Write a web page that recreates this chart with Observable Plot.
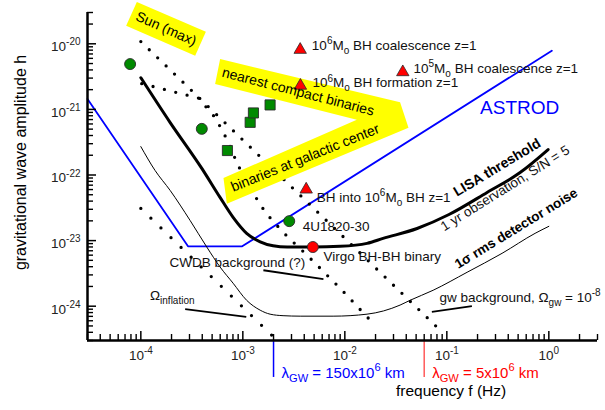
<!DOCTYPE html>
<html><head><meta charset="utf-8">
<script src="https://cdn.jsdelivr.net/npm/d3@7"></script>
<script src="https://cdn.jsdelivr.net/npm/@observablehq/plot@0.6"></script>
<style>body{margin:0;background:#fff}#chart{width:605px;height:410px}</style>
</head><body><div id="chart"></div>
<script>
// ---------- data (frequency in Hz, strain amplitude h) ----------
const astrodF = [3e-5, 2.9e-4, 9.85e-4, 1.07];
const astrodH = [1.44e-21, 8.18e-24, 8.18e-24, 7.83e-21];

const lisaF = [1e-4, 1.94e-4, 3.96e-4, 5.98e-4, 8.03e-4, 1.09e-3, 1.48e-3, 1.98e-3, 2.72e-3, 4.89e-3, 8.99e-3, 1.65e-2, 2.37e-2, 5.11e-2, 0.105, 0.248, 0.523, 0.984];
const lisaH = [3.04e-21, 6.29e-22, 1.26e-22, 4.55e-23, 2.26e-23, 1.29e-23, 9.57e-24, 8.32e-24, 7.98e-24, 7.98e-24, 8.18e-24, 9.08e-24, 1.08e-23, 1.53e-23, 2.5e-23, 5.42e-23, 1.09e-22, 2.44e-22];

const noiseF = [1e-4, 1.38e-4, 1.94e-4, 3.04e-4, 4.43e-4, 5.98e-4, 8.03e-4, 1.09e-3, 1.48e-3, 1.85e-3, 2.48e-3, 3.65e-3, 7.68e-3, 1.65e-2, 3.48e-2, 4.36e-2, 7.34e-2, 0.158, 0.348, 0.733, 1.0];
const noiseH = [2.71e-22, 1.17e-22, 5.81e-23, 2.03e-23, 7.98e-24, 3.96e-24, 2.24e-24, 1.23e-24, 8.69e-25, 7.56e-25, 7.17e-25, 7.05e-25, 7.05e-25, 7.56e-25, 1.04e-24, 1.23e-24, 1.75e-24, 3.29e-24, 6.40e-24, 1.29e-23, 1.65e-23];

const dotAF = [1e-4, 9.14e-2];
const dotAH = [1.08e-20, 3.93e-25];
const dotBF = [1.02e-4, 3.73e-4, 4.57e-4, 5.47e-4, 6.12e-4, 7.01e-4, 8.41e-4, 9.62e-4, 1.38e-3, 1.62e-3, 1.94e-3, 2.78e-3, 4.18e-3, 8.99e-3, 1.89e-2];
const dotBH = [2.47e-21, 1.48e-21, 9.91e-22, 7.23e-22, 5.09e-22, 3.47e-22, 1.78e-22, 1.13e-22, 4.24e-23, 2.88e-23, 2.03e-23, 1.12e-23, 6.18e-24, 1.88e-24, 5.51e-25];
const dotCF = [1e-4, 1.92e-3];
const dotCH = [3.09e-23, 3.62e-25];

const greenDotF = [7.85e-5, 3.96e-4, 2.85e-3];
const greenDotH = [4.91e-21, 5.05e-22, 1.98e-23];
const redDotF = [4.86e-3];
const redDotH = [7.98e-24];
const squareF = [7.06e-4, 1.18e-3, 1.27e-3, 1.85e-3];
const squareH = [2.36e-22, 6.35e-22, 8.83e-22, 1.17e-21];
const triangleF = [3.65e-3, 3.67e-3, 3.70e-2, 4.18e-3];
const triangleH = [8.11e-21, 2.30e-21, 3.70e-21, 6.02e-23];

// pointer lines: [start f, start h, end f, end h]
const pointerF1 = [1.59e-3, 2.72e-4, 7.13e-2];
const pointerH1 = [3.53e-24, 9.0e-25, 8.18e-25];
const pointerF2 = [6.17e-3, 1.08e-3, 0.176];
const pointerH2 = [2.58e-24, 6.87e-25, 1.0e-24];

// yellow label backgrounds (polygon vertices)
const sunBoxF = [9.14e-5, 4.34e-4, 3.41e-4, 7.18e-5];
const sunBoxH = [4.35e-20, 1.52e-20, 6.56e-21, 1.88e-20];
const binBoxF = [5.99e-4, 3.48e-2, 4.21e-2, 6.97e-4, 6.46e-4, 1.31e-2, 5.35e-4];
const binBoxH = [5.85e-21, 1.28e-21, 5.27e-22, 3.65e-23, 9.0e-23, 6.98e-22, 2.44e-21];

const sourceLabels = ["10^{6}M_{o} BH coalescence z=1", "10^{6}M_{o} BH formation z=1", "10^{5}M_{o} BH coalescence z=1", "BH into 10^{6}M_{o} BH z=1", "4U1820-30", "Virgo BH-BH binary", "CWDB background (?)", "Ω_{inflation}", "gw background, Ω_{gw} = 10^{-8}"];
const sourceLabelF = [4.75e-3, 4.81e-3, 4.71e-2, 5.31e-3, 3.87e-3, 6.17e-3, 1.91e-4, 1.23e-4, 8.46e-2];
const sourceLabelH = [9.32e-21, 2.52e-21, 4.17e-21, 4.59e-23, 1.61e-23, 5.62e-24, 4.67e-24, 1.47e-24, 1.36e-24];

const lambdaF = [2e-3, 6e-2];
const lambdaLabels = ["λ_{GW} = 150x10^{6} km", "λ_{GW} = 5x10^{6} km"];
const lambdaTopH = 3e-25, lambdaBottomH = 8.2e-26, lambdaLabelH = 9.6e-26;

const xDomain = [3e-5, 3];
const yDomain = [3e-25, 3e-20];
const xMajor = [1e-4, 1e-3, 1e-2, 1e-1, 1];
const yMajor = [1e-24, 1e-23, 1e-22, 1e-21, 1e-20];
const xMinor = [], yMinor = [];
for (let e = -5; e <= 0; e++) for (let m = 2; m <= 9; m++) { const v = m * 10 ** e; if (v >= 2.99e-5 && v <= 3.01) xMinor.push(v); }
for (let e = -25; e <= -20; e++) for (let m = 2; m <= 9; m++) { const v = m * 10 ** e; if (v >= 2.99e-25 && v <= 3.01e-20) yMinor.push(v); }

// ---------- helpers ----------
const W = 605, H = 410, ML = 87, MR = 8, MT = 12, MB = 70;
const FW = W - ML - MR, FH = H - MT - MB;
const pts = (F, Hs) => F.map((f, i) => ({f, h: Hs[i]}));
const FONT = "'Liberation Sans', Arial, Helvetica, sans-serif";
const supLabel = d => "10^{" + Math.round(Math.log10(d)) + "}";
const dotted = {x: "f", y: "h", stroke: "black", strokeWidth: 3.3, strokeDasharray: "0 11.7", strokeLinecap: "round"};
const one = (txt, f, h, opts) => Plot.text([{f, h, txt}], {x: "f", y: "h", text: "txt", ...opts});

const chart = Plot.plot({
  width: W, height: H,
  marginLeft: ML, marginRight: MR, marginTop: MT, marginBottom: MB,
  x: {type: "log", domain: xDomain, axis: null},
  y: {type: "log", domain: yDomain, axis: null},
  style: {fontFamily: FONT, fontSize: "13px", background: "white", color: "black", overflow: "visible"},
  marks: [
    Plot.line(pts(astrodF, astrodH), {x: "f", y: "h", stroke: "#0000ff", strokeWidth: 1.8}),
    Plot.line(pts(noiseF, noiseH), {x: "f", y: "h", stroke: "black", strokeWidth: 1, curve: "monotone-x"}),
    Plot.line(pts(lisaF, lisaH), {x: "f", y: "h", stroke: "black", strokeWidth: 3, curve: "monotone-x"}),
    Plot.link(pointerF1.map((f, i) => ({f1: f, h1: pointerH1[i], f2: pointerF2[i], h2: pointerH2[i]})), {x1: "f1", y1: "h1", x2: "f2", y2: "h2", stroke: "black", strokeWidth: 1.8}),
    Plot.line(pts(dotAF, dotAH), dotted),
    Plot.line(pts(dotBF, dotBH), dotted),
    Plot.line(pts(dotCF, dotCH), {...dotted, strokeDasharray: "0 14"}),
    Plot.ruleX([lambdaF[0]], {y1: [lambdaTopH], y2: [lambdaBottomH], stroke: "#0000ff", strokeWidth: 1.5}),
    Plot.ruleX([lambdaF[1]], {y1: [lambdaTopH], y2: [lambdaBottomH], stroke: "#ff5a5a", strokeWidth: 1.5}),
    Plot.line(pts(sunBoxF, sunBoxH), {x: "f", y: "h", fill: "#ffff00", stroke: "none", curve: "linear-closed"}),
    Plot.line(pts(binBoxF, binBoxH), {x: "f", y: "h", fill: "#ffff00", stroke: "none", curve: "linear-closed"}),
    Plot.dot(pts(greenDotF, greenDotH), {x: "f", y: "h", r: 5.5, fill: "#008a00", stroke: "#2a2a2a", strokeWidth: 0.9}),
    Plot.dot(pts(redDotF, redDotH), {x: "f", y: "h", r: 5.5, fill: "#ff0000", stroke: "#2a2a2a", strokeWidth: 0.9}),
    Plot.dot(pts(squareF, squareH), {x: "f", y: "h", symbol: "square", r: 5.7, fill: "#008a00", stroke: "#2a2a2a", strokeWidth: 0.9}),
    Plot.dot(pts(triangleF, triangleH), {x: "f", y: "h", symbol: "triangle", r: 4.6, fill: "#ff0000", stroke: "#2a2a2a", strokeWidth: 0.8}),
    Plot.text(sourceLabels.map((t, i) => ({t, f: sourceLabelF[i], h: sourceLabelH[i]})), {x: "f", y: "h", text: "t", textAnchor: "start", fontSize: 13.5, fill: "#111"}),
    one("ASTROD", 0.212, 1.07e-21, {textAnchor: "start", fontSize: 19, fill: "#0000ff"}),
    one("LISA threshold", 0.311, 1.30e-22, {rotate: -31, fontSize: 14, fontWeight: "bold"}),
    one("1 yr observation, S/N = 5", 0.373, 6.24e-23, {rotate: -32, fontSize: 13.5, fill: "#111"}),
    one("1σ rms detector noise", 0.478, 1.53e-23, {rotate: -31.5, fontSize: 13.5, fontWeight: "bold"}),
    one("Sun (max)", 1.77e-4, 1.69e-20, {rotate: 24, fontSize: 14}),
    one("nearest compact binaries", 3.48e-3, 1.86e-21, {rotate: 14.5, fontSize: 14}),
    one("binaries at galactic center", 4.08e-3, 1.82e-22, {rotate: -22, fontSize: 14}),
    one(lambdaLabels[0], lambdaF[0], lambdaLabelH, {dx: 8, textAnchor: "start", fontSize: 15, fill: "#0000ff"}),
    one(lambdaLabels[1], lambdaF[1], lambdaLabelH, {dx: 8, textAnchor: "start", fontSize: 15, fill: "#ff0000"}),
    Plot.text(["frequency f (Hz)"], {x: [0.110], text: d => d, frameAnchor: "bottom", textAnchor: "middle", dy: 55, fontSize: 15.5}),
    Plot.text(["gravitational wave amplitude h"], {text: d => d, frameAnchor: "left", textAnchor: "middle", dx: -67, dy: -14, rotate: -90, fontSize: 16}),
    // axes: inward ticks
    Plot.tickX(xMajor, {x: d => d, insetTop: FH - 9, stroke: "black", strokeWidth: 1.5}),
    Plot.tickX(xMinor, {x: d => d, insetTop: FH - 6, stroke: "black", strokeWidth: 1.4}),
    Plot.tickY(yMajor, {y: d => d, insetRight: FW - 9, stroke: "black", strokeWidth: 1.5}),
    Plot.tickY(yMinor, {y: d => d, insetRight: FW - 6, stroke: "black", strokeWidth: 1.4}),
    Plot.ruleY([yDomain[0]], {stroke: "black", strokeWidth: 2.5}),
    Plot.ruleX([xDomain[0]], {stroke: "black", strokeWidth: 2.5}),
    Plot.axisX(xMajor, {anchor: "bottom", tickSize: 0, tickPadding: 10, tickFormat: supLabel, label: null, fontSize: 13.5, fill: "#222"}),
    Plot.axisY(yMajor, {anchor: "left", tickSize: 0, tickPadding: 7, dy: 3, tickFormat: supLabel, label: null, fontSize: 13.5, fill: "#222"})
  ]
});
document.getElementById("chart").appendChild(chart);

// convert ^{..} and _{..} markup into real superscript / subscript tspans
function richText(root) {
  root.querySelectorAll("text").forEach(t => {
    const nodes = t.children.length ? Array.from(t.querySelectorAll("tspan")) : [t];
    nodes.forEach(node => {
      const s = node.textContent;
      if (!/[\^_]\{/.test(s)) return;
      const fs = parseFloat(getComputedStyle(node).fontSize) || 13;
      const parts = s.split(/(\^\{[^}]*\}|_\{[^}]*\})/).filter(p => p);
      node.textContent = "";
      let shift = 0;
      parts.forEach(p => {
        const sup = p.startsWith("^{"), sub = p.startsWith("_{");
        const ts = document.createElementNS("http://www.w3.org/2000/svg", "tspan");
        ts.textContent = (sup || sub) ? p.slice(2, -1) : p;
        const target = sup ? -0.42 * fs : sub ? 0.3 * fs : 0;
        if (target !== shift) ts.setAttribute("dy", (target - shift).toFixed(2));
        shift = target;
        if (sup || sub) ts.setAttribute("font-size", (0.74 * fs).toFixed(2));
        node.appendChild(ts);
      });
    });
  });
}
richText(chart);
</script></body></html>
